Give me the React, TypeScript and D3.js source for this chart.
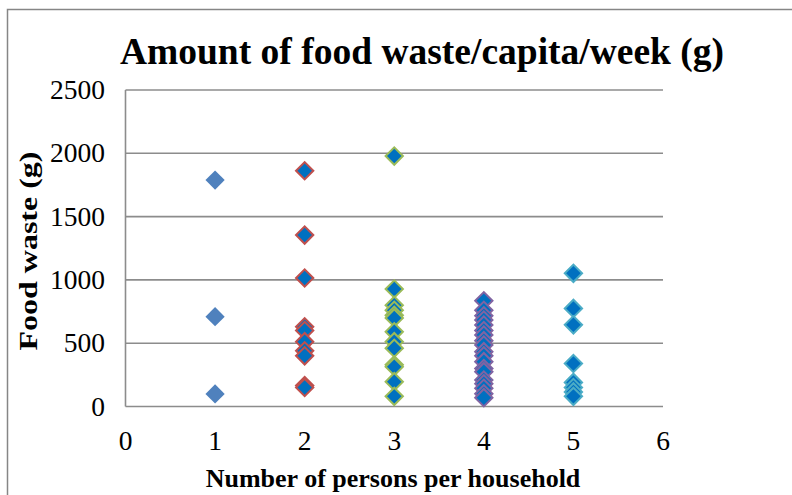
import React from "react";
import * as d3 from "d3";

const W = 792;
const H = 495;

const titleText = "Amount of food waste/capita/week (g)";
const xTitle = "Number of persons per household";
const yTitle = "Food waste (g)";
const xTicks = [0, 1, 2, 3, 4, 5, 6];
const yTicks = [0, 500, 1000, 1500, 2000, 2500];

const hh1 = [1789, 709, 99];
const hh2 = [1862, 1354, 1015, 630, 600, 512, 440, 400, 165, 150];
const hh3 = [1978, 928, 800, 760, 720, 700, 590, 512, 460, 330, 314, 196, 80];
const hh4 = [835, 760, 717, 683, 644, 600, 565, 520, 486, 433, 400, 354, 300, 275, 209, 180, 144, 100, 70];
const hh5 = [1052, 775, 645, 340, 190, 150, 115, 80];

const seriesValues = [hh1, hh2, hh3, hh4, hh5];
const seriesX = [1, 2, 3, 4, 5];
const seriesFill = ["#4F81BD", "#0070C0", "#0070C0", "#0070C0", "#0070C0"];
const seriesStroke = ["none", "#C0504D", "#9BBB59", "#8064A2", "#4BACC6"];

export default function App() {
  const x = d3.scaleLinear().domain([0, 6]).range([125.5, 663]);
  const y = d3.scaleLinear().domain([0, 2500]).range([406.5, 90]);
  const sym = d3.symbol().type(d3.symbolSquare).size(185)();
  const symB = d3.symbol().type(d3.symbolSquare).size(150)();
  const serif = "'Liberation Serif', 'Times New Roman', serif";

  return (
    <svg width={W} height={H} style={{ position: "absolute", left: 0, top: 0, background: "#fff" }} fontFamily={serif}>
      <rect x={0} y={0} width={W} height={H} fill="#fff" />
      {/* outer frame */}
      <path d={`M7.5,${H} L7.5,9.5 L${W},9.5`} fill="none" stroke="#868686" strokeWidth={1.5} />
      {/* gridlines */}
      {yTicks.map((t) => (
        <line key={t} x1={x(0)} x2={x(6)} y1={y(t)} y2={y(t)} stroke="#8c8c8c" strokeWidth={1.6} />
      ))}
      <line x1={x(0)} x2={x(0)} y1={y(0)} y2={y(2500)} stroke="#8c8c8c" strokeWidth={1.6} />
      {/* y tick labels */}
      {yTicks.map((t) => (
        <text key={t} x={105} y={y(t) + 9} textAnchor="end" fontSize={27.5} fill="#000">
          {t}
        </text>
      ))}
      {/* x tick labels */}
      {xTicks.map((t) => (
        <text key={t} x={x(t)} y={450} textAnchor="middle" fontSize={27.5} fill="#000">
          {t}
        </text>
      ))}
      {/* points */}
      {seriesValues.map((vals, si) => (
        <g key={si}>
          {vals.map((v, i) => (
            <path
              key={i}
              d={seriesStroke[si] === "none" ? sym : symB}
              transform={`translate(${x(seriesX[si])},${y(v)}) rotate(45)`}
              fill={seriesFill[si]}
              stroke={seriesStroke[si]}
              strokeWidth={seriesStroke[si] === "none" ? 0 : 2}
            />
          ))}
        </g>
      ))}
      {/* title */}
      <text x={422} y={64} textAnchor="middle" fontSize={37.5} fontWeight="bold" fill="#000">
        {titleText}
      </text>
      <text x={393} y={487} textAnchor="middle" fontSize={26} fontWeight="bold" fill="#000">
        {xTitle}
      </text>
      <text
        transform={`translate(37,251) rotate(-90) scale(1.28,1)`}
        textAnchor="middle"
        fontSize={25}
        fontWeight="bold"
        fill="#000"
      >
        {yTitle}
      </text>
    </svg>
  );
}
